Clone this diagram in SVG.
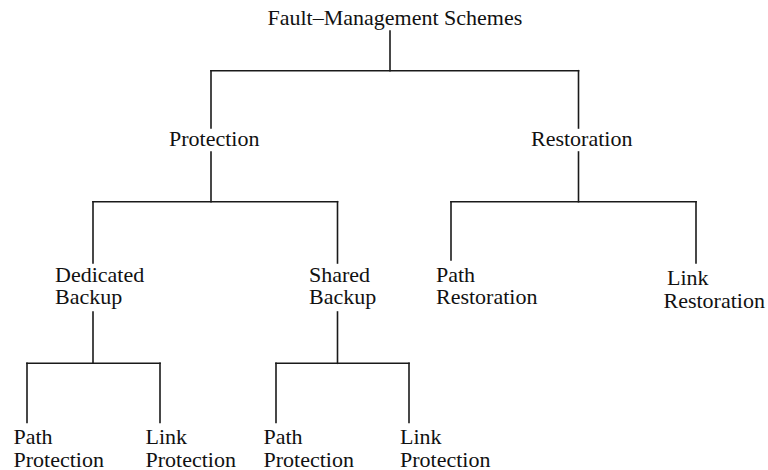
<svg xmlns="http://www.w3.org/2000/svg" width="768" height="470" viewBox="0 0 768 470">
<style>
text{font-family:"Liberation Serif","Times New Roman",serif;font-size:22px;fill:#111}
.c line{stroke:#1a1a1a;stroke-width:1.6;stroke-linecap:square}
</style>
<rect width="768" height="470" fill="#fff"/>
<g class="c" id="connectors">
<line x1="390" y1="31" x2="390" y2="70.7"/>
<line x1="211" y1="70.7" x2="578.5" y2="70.7"/>
<line x1="211" y1="70.7" x2="211" y2="128"/>
<line x1="578.5" y1="70.7" x2="578.5" y2="128"/>
<line x1="211" y1="152" x2="211" y2="201.7"/>
<line x1="93" y1="201.7" x2="337.5" y2="201.7"/>
<line x1="93" y1="201.7" x2="93" y2="263"/>
<line x1="337.5" y1="201.7" x2="337.5" y2="263"/>
<line x1="578.5" y1="152" x2="578.5" y2="201.7"/>
<line x1="451" y1="201.7" x2="696" y2="201.7"/>
<line x1="451" y1="201.7" x2="451" y2="260"/>
<line x1="696" y1="201.7" x2="696" y2="263"/>
<line x1="93" y1="312" x2="93" y2="363.3"/>
<line x1="27" y1="363.3" x2="160" y2="363.3"/>
<line x1="27" y1="363.3" x2="27" y2="422.5"/>
<line x1="160" y1="363.3" x2="160" y2="422.5"/>
<line x1="337.5" y1="312" x2="337.5" y2="363.3"/>
<line x1="276" y1="363.3" x2="409" y2="363.3"/>
<line x1="276" y1="363.3" x2="276" y2="422.5"/>
<line x1="409" y1="363.3" x2="409" y2="422.5"/>
</g>
<g id="root"><text x="267.5" y="24.5">Fault–Management Schemes</text></g>
<g id="protection"><text x="169" y="145.5">Protection</text></g>
<g id="restoration"><text x="531" y="145.5">Restoration</text></g>
<g id="dedicated"><text x="55" y="281.5">Dedicated</text><text x="55" y="304">Backup</text></g>
<g id="shared"><text x="309" y="281.5">Shared</text><text x="309" y="304">Backup</text></g>
<g id="path-restoration"><text x="436" y="281.5">Path</text><text x="436" y="304">Restoration</text></g>
<g id="link-restoration"><text x="667" y="285">Link</text><text x="663.5" y="307.5">Restoration</text></g>
<g id="ded-path"><text x="13.5" y="443.5">Path</text><text x="13.5" y="466.5">Protection</text></g>
<g id="ded-link"><text x="145.5" y="443.5">Link</text><text x="145.5" y="466.5">Protection</text></g>
<g id="sh-path"><text x="263.5" y="443.5">Path</text><text x="263.5" y="466.5">Protection</text></g>
<g id="sh-link"><text x="400" y="443.5">Link</text><text x="400" y="466.5">Protection</text></g>
</svg>
